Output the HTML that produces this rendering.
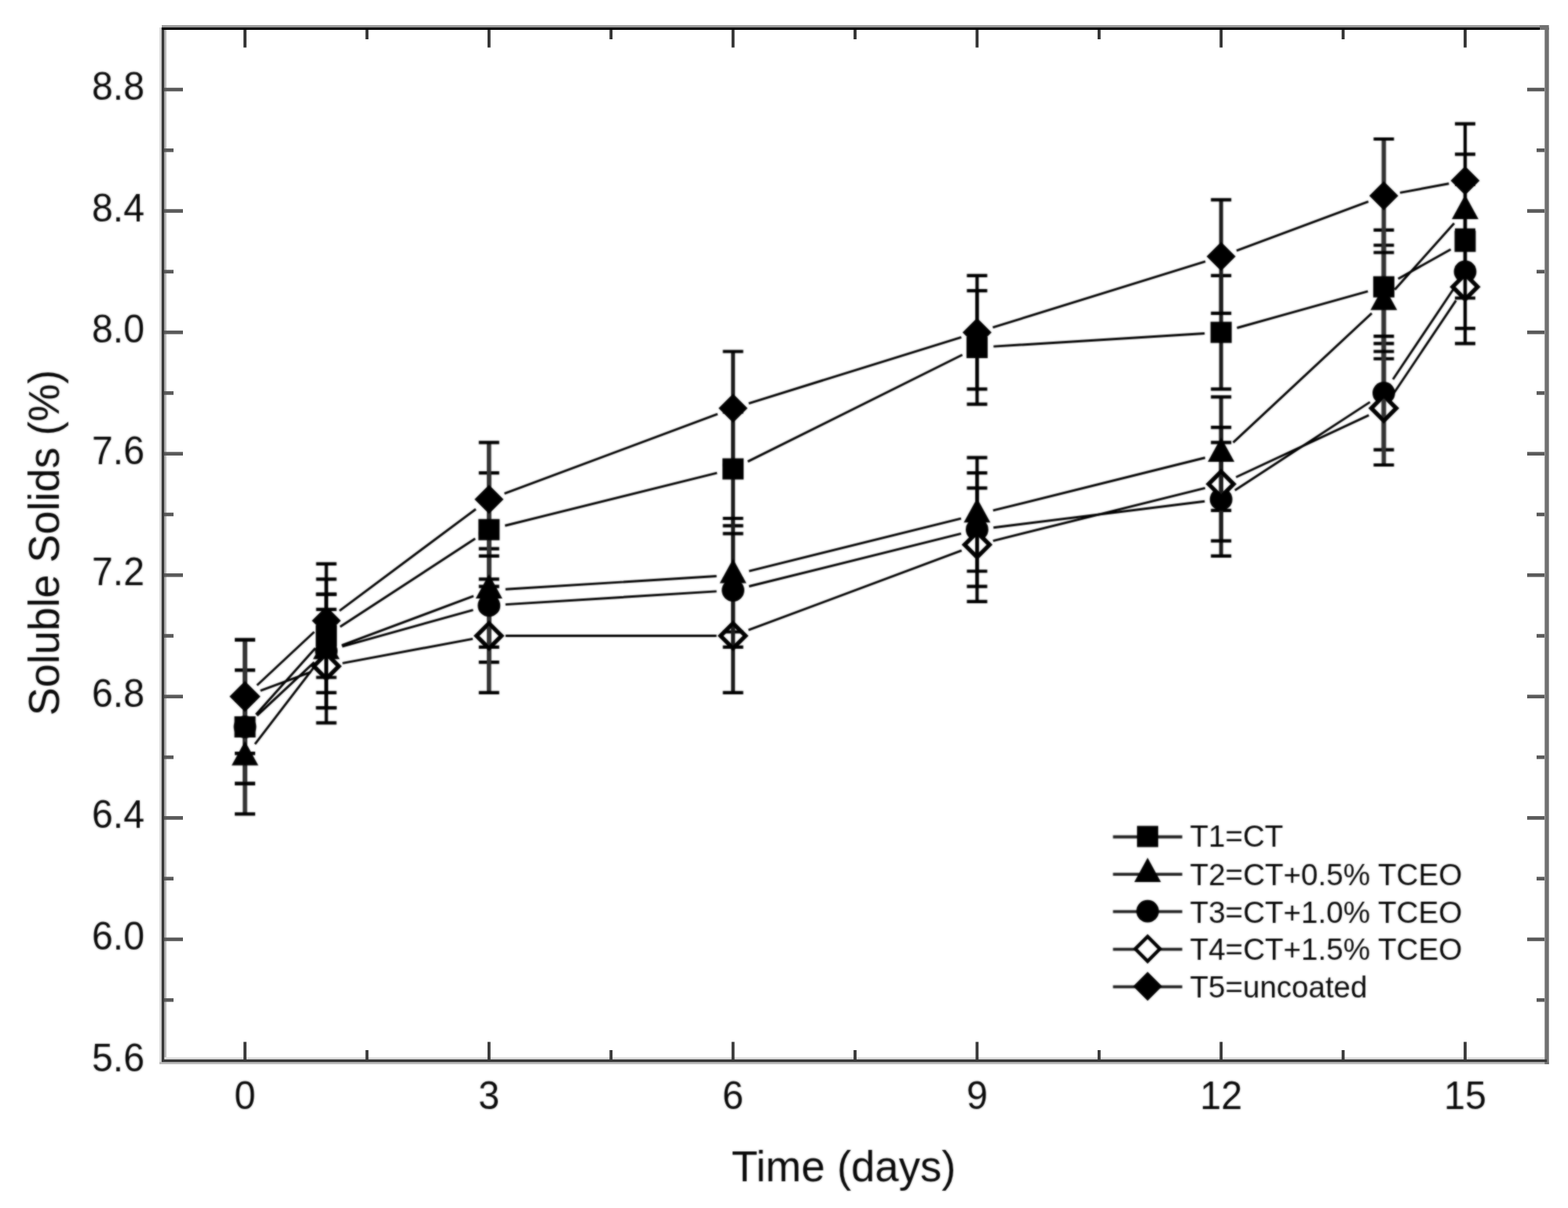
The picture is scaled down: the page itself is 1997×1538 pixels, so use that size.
<!DOCTYPE html>
<html lang="en">
<head>
<meta charset="utf-8">
<title>Soluble Solids (%) vs Time (days)</title>
<style>
html,body{margin:0;padding:0;background:#fff;}
body{width:1997px;height:1538px;overflow:hidden;}
svg{display:block;font-family:"Liberation Sans",Arial,Helvetica,sans-serif;}
svg text{fill:#0a0a0a;}
</style>
</head>
<body>
<svg width="1997" height="1538" viewBox="0 0 1997 1538">
<defs><filter id="soft" color-interpolation-filters="sRGB" x="0" y="0" width="1997" height="1538" filterUnits="userSpaceOnUse"><feGaussianBlur stdDeviation="0.9" result="b"/><feComposite in="b" in2="SourceGraphic" operator="arithmetic" k1="0" k2="0.7" k3="0.3" k4="0"/></filter><filter id="soft3" color-interpolation-filters="sRGB" x="0" y="0" width="1997" height="1538" filterUnits="userSpaceOnUse"><feGaussianBlur stdDeviation="0.9" result="b"/><feComposite in="b" in2="SourceGraphic" operator="arithmetic" k1="0" k2="0.65" k3="0.35" k4="0"/></filter><filter id="soft2" color-interpolation-filters="sRGB" x="0" y="0" width="1997" height="1538" filterUnits="userSpaceOnUse"><feGaussianBlur stdDeviation="0.45"/></filter></defs>
<rect width="1997" height="1538" fill="#fff"/>
<g id="frame" filter="url(#soft2)">
<rect x="203" y="35" width="3" height="1320" fill="#dcdcdc"/>
<rect x="209" y="38" width="3" height="1311" fill="#bdbdbd"/>
<rect x="206" y="32" width="1756" height="3" fill="#999"/>
<rect x="209" y="1346" width="1758" height="3" fill="#e2e2e2"/>
<rect x="203" y="1352" width="1770" height="3" fill="#bdbdbd"/>
<rect x="1967.3" y="35" width="5.4" height="1320" fill="#707070"/>
<rect x="205.8" y="35" width="3.4" height="1317" fill="#383838"/>
<rect x="206" y="35" width="1755" height="3" fill="#000"/>
<rect x="1961" y="32" width="11.7" height="6" fill="#707070"/>
<rect x="206" y="1348.8" width="1764" height="3.4" fill="#383838"/>
</g>
<g id="ticks" fill="#555" filter="url(#soft2)">
<rect x="209" y="1270.92" width="12" height="4.6" fill="#5a5a5a"/>
<rect x="1957" y="1270.92" width="10" height="4.6" fill="#5a5a5a"/>
<rect x="209" y="1193.64" width="24" height="4.6" fill="#5a5a5a"/>
<rect x="1945" y="1193.64" width="22" height="4.6" fill="#5a5a5a"/>
<rect x="209" y="1116.36" width="12" height="4.6" fill="#5a5a5a"/>
<rect x="1957" y="1116.36" width="10" height="4.6" fill="#5a5a5a"/>
<rect x="209" y="1039.08" width="24" height="4.6" fill="#5a5a5a"/>
<rect x="1945" y="1039.08" width="22" height="4.6" fill="#5a5a5a"/>
<rect x="209" y="961.8" width="12" height="4.6" fill="#5a5a5a"/>
<rect x="1957" y="961.8" width="10" height="4.6" fill="#5a5a5a"/>
<rect x="209" y="884.52" width="24" height="4.6" fill="#5a5a5a"/>
<rect x="1945" y="884.52" width="22" height="4.6" fill="#5a5a5a"/>
<rect x="209" y="807.24" width="12" height="4.6" fill="#5a5a5a"/>
<rect x="1957" y="807.24" width="10" height="4.6" fill="#5a5a5a"/>
<rect x="209" y="729.96" width="24" height="4.6" fill="#5a5a5a"/>
<rect x="1945" y="729.96" width="22" height="4.6" fill="#5a5a5a"/>
<rect x="209" y="652.68" width="12" height="4.6" fill="#5a5a5a"/>
<rect x="1957" y="652.68" width="10" height="4.6" fill="#5a5a5a"/>
<rect x="209" y="575.4" width="24" height="4.6" fill="#5a5a5a"/>
<rect x="1945" y="575.4" width="22" height="4.6" fill="#5a5a5a"/>
<rect x="209" y="498.12" width="12" height="4.6" fill="#5a5a5a"/>
<rect x="1957" y="498.12" width="10" height="4.6" fill="#5a5a5a"/>
<rect x="209" y="420.84" width="24" height="4.6" fill="#5a5a5a"/>
<rect x="1945" y="420.84" width="22" height="4.6" fill="#5a5a5a"/>
<rect x="209" y="343.56" width="12" height="4.6" fill="#5a5a5a"/>
<rect x="1957" y="343.56" width="10" height="4.6" fill="#5a5a5a"/>
<rect x="209" y="266.28" width="24" height="4.6" fill="#5a5a5a"/>
<rect x="1945" y="266.28" width="22" height="4.6" fill="#5a5a5a"/>
<rect x="209" y="189" width="12" height="4.6" fill="#5a5a5a"/>
<rect x="1957" y="189" width="10" height="4.6" fill="#5a5a5a"/>
<rect x="209" y="111.72" width="24" height="4.6" fill="#5a5a5a"/>
<rect x="1945" y="111.72" width="22" height="4.6" fill="#5a5a5a"/>
<rect x="310.1" y="38" width="3.8" height="22.5" fill="#333"/>
<rect x="310.1" y="1326.5" width="3.8" height="22.5" fill="#3a3a3a"/>
<rect x="465.5" y="38" width="3.8" height="12" fill="#333"/>
<rect x="465.5" y="1337" width="3.8" height="12" fill="#3a3a3a"/>
<rect x="620.9" y="38" width="3.8" height="22.5" fill="#333"/>
<rect x="620.9" y="1326.5" width="3.8" height="22.5" fill="#3a3a3a"/>
<rect x="776.3" y="38" width="3.8" height="12" fill="#333"/>
<rect x="776.3" y="1337" width="3.8" height="12" fill="#3a3a3a"/>
<rect x="931.7" y="38" width="3.8" height="22.5" fill="#333"/>
<rect x="931.7" y="1326.5" width="3.8" height="22.5" fill="#3a3a3a"/>
<rect x="1087.1" y="38" width="3.8" height="12" fill="#333"/>
<rect x="1087.1" y="1337" width="3.8" height="12" fill="#3a3a3a"/>
<rect x="1242.5" y="38" width="3.8" height="22.5" fill="#333"/>
<rect x="1242.5" y="1326.5" width="3.8" height="22.5" fill="#3a3a3a"/>
<rect x="1397.9" y="38" width="3.8" height="12" fill="#333"/>
<rect x="1397.9" y="1337" width="3.8" height="12" fill="#3a3a3a"/>
<rect x="1553.3" y="38" width="3.8" height="22.5" fill="#333"/>
<rect x="1553.3" y="1326.5" width="3.8" height="22.5" fill="#3a3a3a"/>
<rect x="1708.7" y="38" width="3.8" height="12" fill="#333"/>
<rect x="1708.7" y="1337" width="3.8" height="12" fill="#3a3a3a"/>
<rect x="1864.1" y="38" width="3.8" height="22.5" fill="#333"/>
<rect x="1864.1" y="1326.5" width="3.8" height="22.5" fill="#3a3a3a"/>
</g>
<g id="plot" filter="url(#soft)">
<g id="T1">
<path d="M325.99 909.8L401.61 825.2M433.19 798.06L605.21 685.78M643.18 669.23L913.22 602.09M952.4 587.67L1225.6 451.81M1265.36 441.16L1534.24 424.44M1575.42 417.48L1742.18 370.84M1780.73 354.93L1847.67 317.47" stroke="#000" stroke-width="2.9" fill="none"/>
<rect x="298.5" y="911.96" width="27" height="27" fill="#000"/>
<rect x="402.1" y="796.04" width="27" height="27" fill="#000"/>
<rect x="609.3" y="660.8" width="27" height="27" fill="#000"/>
<rect x="920.1" y="583.52" width="27" height="27" fill="#000"/>
<rect x="1230.9" y="428.96" width="27" height="27" fill="#000"/>
<rect x="1541.7" y="409.64" width="27" height="27" fill="#000"/>
<rect x="1748.9" y="351.68" width="27" height="27" fill="#000"/>
<rect x="1852.5" y="293.72" width="27" height="27" fill="#000"/>
</g>
<g id="T2">
<path d="M324.77 947.43L402.83 845.53M435.28 821.52L603.12 758.92M643.76 750.28L912.64 733.56M953.98 727.19L1224.02 660.05M1264.78 649.91L1534.82 582.77M1570.56 563.38L1747.04 398.82M1776.39 368.84L1852.01 284.24" stroke="#000" stroke-width="2.9" fill="none"/>
<polygon points="312,943.4 329,974.4 295,974.4" fill="#000"/>
<polygon points="415.6,808.16 432.6,839.16 398.6,839.16" fill="#000"/>
<polygon points="622.8,730.88 639.8,761.88 605.8,761.88" fill="#000"/>
<polygon points="933.6,711.56 950.6,742.56 916.6,742.56" fill="#000"/>
<polygon points="1244.4,634.28 1261.4,665.28 1227.4,665.28" fill="#000"/>
<polygon points="1555.2,557 1572.2,588 1538.2,588" fill="#000"/>
<polygon points="1762.4,363.8 1779.4,394.8 1745.4,394.8" fill="#000"/>
<polygon points="1866,247.88 1883,278.88 1849,278.88" fill="#000"/>
</g>
<g id="T3">
<path d="M327.36 911.14L400.24 843.18M435.82 823.2L602.58 776.56M643.76 769.6L912.64 752.88M953.98 746.51L1224.02 679.37M1265.24 671.71L1534.36 638.25M1572.79 624.18L1744.81 511.9M1774.09 482.98L1854.31 363.3" stroke="#000" stroke-width="2.9" fill="none"/>
<circle cx="312" cy="925.46" r="14.4" fill="#000"/>
<circle cx="415.6" cy="828.86" r="14.4" fill="#000"/>
<circle cx="622.8" cy="770.9" r="14.4" fill="#000"/>
<circle cx="933.6" cy="751.58" r="14.4" fill="#000"/>
<circle cx="1244.4" cy="674.3" r="14.4" fill="#000"/>
<circle cx="1555.2" cy="635.66" r="14.4" fill="#000"/>
<circle cx="1762.4" cy="500.42" r="14.4" fill="#000"/>
<circle cx="1866" cy="345.86" r="14.4" fill="#000"/>
</g>
<g id="T4">
<path d="M331.68 879.48L395.92 855.52M436.24 844.33L602.16 813.39M643.8 809.54L912.6 809.54M953.28 802.2L1224.72 700.96M1264.78 688.55L1534.82 621.41M1574.23 607.47L1743.37 528.61M1774.09 502.3L1854.31 382.62" stroke="#000" stroke-width="2.9" fill="none"/>
<polygon points="312,870.92 327.9,886.82 312,902.72 296.1,886.82" fill="#fff" stroke="#000" stroke-width="5.4"/>
<polygon points="415.6,832.28 431.5,848.18 415.6,864.08 399.7,848.18" fill="#fff" stroke="#000" stroke-width="5.4"/>
<polygon points="622.8,793.64 638.7,809.54 622.8,825.44 606.9,809.54" fill="#fff" stroke="#000" stroke-width="5.4"/>
<polygon points="933.6,793.64 949.5,809.54 933.6,825.44 917.7,809.54" fill="#fff" stroke="#000" stroke-width="5.4"/>
<polygon points="1244.4,677.72 1260.3,693.62 1244.4,709.52 1228.5,693.62" fill="#fff" stroke="#000" stroke-width="5.4"/>
<polygon points="1555.2,600.44 1571.1,616.34 1555.2,632.24 1539.3,616.34" fill="#fff" stroke="#000" stroke-width="5.4"/>
<polygon points="1762.4,503.84 1778.3,519.74 1762.4,535.64 1746.5,519.74" fill="#fff" stroke="#000" stroke-width="5.4"/>
<polygon points="1866,349.28 1881.9,365.18 1866,381.08 1850.1,365.18" fill="#fff" stroke="#000" stroke-width="5.4"/>
</g>
<g id="T5">
<path d="M327.36 872.5L400.24 804.54M432.43 777.66L605.97 648.22M642.48 628.32L913.92 527.08M953.65 513.51L1224.35 429.37M1264.45 416.91L1535.15 332.77M1574.88 319.2L1742.72 256.6M1783.04 245.41L1845.36 233.79" stroke="#000" stroke-width="2.9" fill="none"/>
<polygon points="312,868.32 330.5,886.82 312,905.32 293.5,886.82" fill="#000"/>
<polygon points="415.6,771.72 434.1,790.22 415.6,808.72 397.1,790.22" fill="#000"/>
<polygon points="622.8,617.16 641.3,635.66 622.8,654.16 604.3,635.66" fill="#000"/>
<polygon points="933.6,501.24 952.1,519.74 933.6,538.24 915.1,519.74" fill="#000"/>
<polygon points="1244.4,404.64 1262.9,423.14 1244.4,441.64 1225.9,423.14" fill="#000"/>
<polygon points="1555.2,308.04 1573.7,326.54 1555.2,345.04 1536.7,326.54" fill="#000"/>
<polygon points="1762.4,230.76 1780.9,249.26 1762.4,267.76 1743.9,249.26" fill="#000"/>
<polygon points="1866,211.44 1884.5,229.94 1866,248.44 1847.5,229.94" fill="#000"/>
</g>
<g id="errorbars" style="mix-blend-mode:darken">
<path d="M312 853.2V997.72" stroke="#333" stroke-width="5.6" fill="none"/>
<path d="M299 853.2H325M299 997.72H325" stroke="#000" stroke-width="4.2" fill="none"/>
<path d="M415.6 737.28V881.8" stroke="#000" stroke-width="4.2" fill="none"/>
<path d="M402.6 737.28H428.6M402.6 881.8H428.6" stroke="#000" stroke-width="4.2" fill="none"/>
<path d="M622.8 602.04V746.56" stroke="#333" stroke-width="5.6" fill="none"/>
<path d="M609.8 602.04H635.8M609.8 746.56H635.8" stroke="#000" stroke-width="4.2" fill="none"/>
<path d="M933.6 524.76V669.28" stroke="#1c1c1c" stroke-width="5.0" fill="none"/>
<path d="M920.6 524.76H946.6M920.6 669.28H946.6" stroke="#000" stroke-width="4.2" fill="none"/>
<path d="M1244.4 370.2V514.72" stroke="#000" stroke-width="4.2" fill="none"/>
<path d="M1231.4 370.2H1257.4M1231.4 514.72H1257.4" stroke="#000" stroke-width="4.2" fill="none"/>
<path d="M1555.2 350.88V495.4" stroke="#1c1c1c" stroke-width="5.0" fill="none"/>
<path d="M1542.2 350.88H1568.2M1542.2 495.4H1568.2" stroke="#000" stroke-width="4.2" fill="none"/>
<path d="M1762.4 292.92V437.44" stroke="#333" stroke-width="5.6" fill="none"/>
<path d="M1749.4 292.92H1775.4M1749.4 437.44H1775.4" stroke="#000" stroke-width="4.2" fill="none"/>
<path d="M1866 234.96V379.48" stroke="#000" stroke-width="4.2" fill="none"/>
<path d="M1853 234.96H1879M1853 379.48H1879" stroke="#000" stroke-width="4.2" fill="none"/>
<path d="M312 891.84V1036.36" stroke="#333" stroke-width="5.6" fill="none"/>
<path d="M299 891.84H325M299 1036.36H325" stroke="#000" stroke-width="4.2" fill="none"/>
<path d="M415.6 756.6V901.12" stroke="#000" stroke-width="4.2" fill="none"/>
<path d="M402.6 756.6H428.6M402.6 901.12H428.6" stroke="#000" stroke-width="4.2" fill="none"/>
<path d="M622.8 679.32V823.84" stroke="#333" stroke-width="5.6" fill="none"/>
<path d="M609.8 679.32H635.8M609.8 823.84H635.8" stroke="#000" stroke-width="4.2" fill="none"/>
<path d="M933.6 660V804.52" stroke="#1c1c1c" stroke-width="5.0" fill="none"/>
<path d="M920.6 660H946.6M920.6 804.52H946.6" stroke="#000" stroke-width="4.2" fill="none"/>
<path d="M1244.4 582.72V727.24" stroke="#000" stroke-width="4.2" fill="none"/>
<path d="M1231.4 582.72H1257.4M1231.4 727.24H1257.4" stroke="#000" stroke-width="4.2" fill="none"/>
<path d="M1555.2 505.44V649.96" stroke="#1c1c1c" stroke-width="5.0" fill="none"/>
<path d="M1542.2 505.44H1568.2M1542.2 649.96H1568.2" stroke="#000" stroke-width="4.2" fill="none"/>
<path d="M1762.4 312.24V456.76" stroke="#333" stroke-width="5.6" fill="none"/>
<path d="M1749.4 312.24H1775.4M1749.4 456.76H1775.4" stroke="#000" stroke-width="4.2" fill="none"/>
<path d="M1866 196.32V340.84" stroke="#000" stroke-width="4.2" fill="none"/>
<path d="M1853 196.32H1879M1853 340.84H1879" stroke="#000" stroke-width="4.2" fill="none"/>
<path d="M312 853.2V997.72" stroke="#333" stroke-width="5.6" fill="none"/>
<path d="M299 853.2H325M299 997.72H325" stroke="#000" stroke-width="4.2" fill="none"/>
<path d="M415.6 756.6V901.12" stroke="#000" stroke-width="4.2" fill="none"/>
<path d="M402.6 756.6H428.6M402.6 901.12H428.6" stroke="#000" stroke-width="4.2" fill="none"/>
<path d="M622.8 698.64V843.16" stroke="#333" stroke-width="5.6" fill="none"/>
<path d="M609.8 698.64H635.8M609.8 843.16H635.8" stroke="#000" stroke-width="4.2" fill="none"/>
<path d="M933.6 679.32V823.84" stroke="#1c1c1c" stroke-width="5.0" fill="none"/>
<path d="M920.6 679.32H946.6M920.6 823.84H946.6" stroke="#000" stroke-width="4.2" fill="none"/>
<path d="M1244.4 602.04V746.56" stroke="#000" stroke-width="4.2" fill="none"/>
<path d="M1231.4 602.04H1257.4M1231.4 746.56H1257.4" stroke="#000" stroke-width="4.2" fill="none"/>
<path d="M1555.2 563.4V707.92" stroke="#1c1c1c" stroke-width="5.0" fill="none"/>
<path d="M1542.2 563.4H1568.2M1542.2 707.92H1568.2" stroke="#000" stroke-width="4.2" fill="none"/>
<path d="M1762.4 428.16V572.68" stroke="#333" stroke-width="5.6" fill="none"/>
<path d="M1749.4 428.16H1775.4M1749.4 572.68H1775.4" stroke="#000" stroke-width="4.2" fill="none"/>
<path d="M1866 273.6V418.12" stroke="#000" stroke-width="4.2" fill="none"/>
<path d="M1853 273.6H1879M1853 418.12H1879" stroke="#000" stroke-width="4.2" fill="none"/>
<path d="M312 814.56V959.08" stroke="#333" stroke-width="5.6" fill="none"/>
<path d="M299 814.56H325M299 959.08H325" stroke="#000" stroke-width="4.2" fill="none"/>
<path d="M415.6 775.92V920.44" stroke="#000" stroke-width="4.2" fill="none"/>
<path d="M402.6 775.92H428.6M402.6 920.44H428.6" stroke="#000" stroke-width="4.2" fill="none"/>
<path d="M622.8 737.28V881.8" stroke="#333" stroke-width="5.6" fill="none"/>
<path d="M609.8 737.28H635.8M609.8 881.8H635.8" stroke="#000" stroke-width="4.2" fill="none"/>
<path d="M933.6 737.28V881.8" stroke="#1c1c1c" stroke-width="5.0" fill="none"/>
<path d="M920.6 737.28H946.6M920.6 881.8H946.6" stroke="#000" stroke-width="4.2" fill="none"/>
<path d="M1244.4 621.36V765.88" stroke="#000" stroke-width="4.2" fill="none"/>
<path d="M1231.4 621.36H1257.4M1231.4 765.88H1257.4" stroke="#000" stroke-width="4.2" fill="none"/>
<path d="M1555.2 544.08V688.6" stroke="#1c1c1c" stroke-width="5.0" fill="none"/>
<path d="M1542.2 544.08H1568.2M1542.2 688.6H1568.2" stroke="#000" stroke-width="4.2" fill="none"/>
<path d="M1762.4 447.48V592" stroke="#333" stroke-width="5.6" fill="none"/>
<path d="M1749.4 447.48H1775.4M1749.4 592H1775.4" stroke="#000" stroke-width="4.2" fill="none"/>
<path d="M1866 292.92V437.44" stroke="#000" stroke-width="4.2" fill="none"/>
<path d="M1853 292.92H1879M1853 437.44H1879" stroke="#000" stroke-width="4.2" fill="none"/>
<path d="M312 814.56V959.08" stroke="#333" stroke-width="5.6" fill="none"/>
<path d="M299 814.56H325M299 959.08H325" stroke="#000" stroke-width="4.2" fill="none"/>
<path d="M415.6 717.96V862.48" stroke="#000" stroke-width="4.2" fill="none"/>
<path d="M402.6 717.96H428.6M402.6 862.48H428.6" stroke="#000" stroke-width="4.2" fill="none"/>
<path d="M622.8 563.4V707.92" stroke="#333" stroke-width="5.6" fill="none"/>
<path d="M609.8 563.4H635.8M609.8 707.92H635.8" stroke="#000" stroke-width="4.2" fill="none"/>
<path d="M933.6 447.48V592" stroke="#1c1c1c" stroke-width="5.0" fill="none"/>
<path d="M920.6 447.48H946.6M920.6 592H946.6" stroke="#000" stroke-width="4.2" fill="none"/>
<path d="M1244.4 350.88V495.4" stroke="#000" stroke-width="4.2" fill="none"/>
<path d="M1231.4 350.88H1257.4M1231.4 495.4H1257.4" stroke="#000" stroke-width="4.2" fill="none"/>
<path d="M1555.2 254.28V398.8" stroke="#1c1c1c" stroke-width="5.0" fill="none"/>
<path d="M1542.2 254.28H1568.2M1542.2 398.8H1568.2" stroke="#000" stroke-width="4.2" fill="none"/>
<path d="M1762.4 177V321.52" stroke="#333" stroke-width="5.6" fill="none"/>
<path d="M1749.4 177H1775.4M1749.4 321.52H1775.4" stroke="#000" stroke-width="4.2" fill="none"/>
<path d="M1866 157.68V302.2" stroke="#000" stroke-width="4.2" fill="none"/>
<path d="M1853 157.68H1879M1853 302.2H1879" stroke="#000" stroke-width="4.2" fill="none"/>
</g>
<g id="legend">
<path d="M1417.5 1065.5H1505.7" stroke="#222" stroke-width="3.8"/>
<rect x="1448.1" y="1051.5" width="27" height="27" fill="#000"/>
<path d="M1417.5 1113.1H1505.7" stroke="#222" stroke-width="3.8"/>
<polygon points="1461.6,1091.9 1478.6,1122.9 1444.6,1122.9" fill="#000"/>
<path d="M1417.5 1160.6H1505.7" stroke="#222" stroke-width="3.8"/>
<circle cx="1461.6" cy="1160.1" r="14.4" fill="#000"/>
<path d="M1417.5 1208.6H1505.7" stroke="#222" stroke-width="3.8"/>
<polygon points="1461.6,1192.4 1477.3,1208.1 1461.6,1223.8 1445.9,1208.1" fill="#fff" stroke="#000" stroke-width="4.4"/>
<path d="M1417.5 1256.3H1505.7" stroke="#222" stroke-width="3.8"/>
<polygon points="1461.6,1237.3 1480.1,1255.8 1461.6,1274.3 1443.1,1255.8" fill="#000"/>
</g>
</g>
<g id="labels" filter="url(#soft3)">
<g id="legendtext">
<text x="1515.6" y="1078.1" font-size="39.6" textLength="118.73" lengthAdjust="spacingAndGlyphs">T1=CT</text>
<text x="1515.6" y="1126.6" font-size="39.6" textLength="346.6" lengthAdjust="spacingAndGlyphs">T2=CT+0.5% TCEO</text>
<text x="1515.6" y="1175.1" font-size="39.6" textLength="346.6" lengthAdjust="spacingAndGlyphs">T3=CT+1.0% TCEO</text>
<text x="1515.6" y="1222.3" font-size="39.6" textLength="346.6" lengthAdjust="spacingAndGlyphs">T4=CT+1.5% TCEO</text>
<text x="1515.6" y="1270.3" font-size="39.6" textLength="225.8" lengthAdjust="spacingAndGlyphs">T5=uncoated</text>
</g>
<g id="ylabels" font-size="49.5" text-anchor="end">
<text x="184" y="1363.6" textLength="67" lengthAdjust="spacingAndGlyphs">5.6</text>
<text x="184" y="1209.04" textLength="67" lengthAdjust="spacingAndGlyphs">6.0</text>
<text x="184" y="1054.48" textLength="67" lengthAdjust="spacingAndGlyphs">6.4</text>
<text x="184" y="899.92" textLength="67" lengthAdjust="spacingAndGlyphs">6.8</text>
<text x="184" y="745.36" textLength="67" lengthAdjust="spacingAndGlyphs">7.2</text>
<text x="184" y="590.8" textLength="67" lengthAdjust="spacingAndGlyphs">7.6</text>
<text x="184" y="436.24" textLength="67" lengthAdjust="spacingAndGlyphs">8.0</text>
<text x="184" y="281.68" textLength="67" lengthAdjust="spacingAndGlyphs">8.4</text>
<text x="184" y="127.12" textLength="67" lengthAdjust="spacingAndGlyphs">8.8</text>
</g>
<g id="xlabels" font-size="49.5" text-anchor="middle">
<text x="312" y="1411.5" textLength="26.97" lengthAdjust="spacingAndGlyphs">0</text>
<text x="622.8" y="1411.5" textLength="26.97" lengthAdjust="spacingAndGlyphs">3</text>
<text x="933.6" y="1411.5" textLength="26.97" lengthAdjust="spacingAndGlyphs">6</text>
<text x="1244.4" y="1411.5" textLength="26.97" lengthAdjust="spacingAndGlyphs">9</text>
<text x="1555.2" y="1411.5" textLength="53.94" lengthAdjust="spacingAndGlyphs">12</text>
<text x="1866" y="1411.5" textLength="53.94" lengthAdjust="spacingAndGlyphs">15</text>
</g>
<text x="1074.5" y="1504" font-size="55" text-anchor="middle" textLength="285.7" lengthAdjust="spacingAndGlyphs">Time (days)</text>
<text transform="translate(75 691) rotate(-90)" font-size="55" text-anchor="middle" textLength="440.5" lengthAdjust="spacingAndGlyphs">Soluble Solids (%)</text>
</g>
</svg>
</body>
</html>
